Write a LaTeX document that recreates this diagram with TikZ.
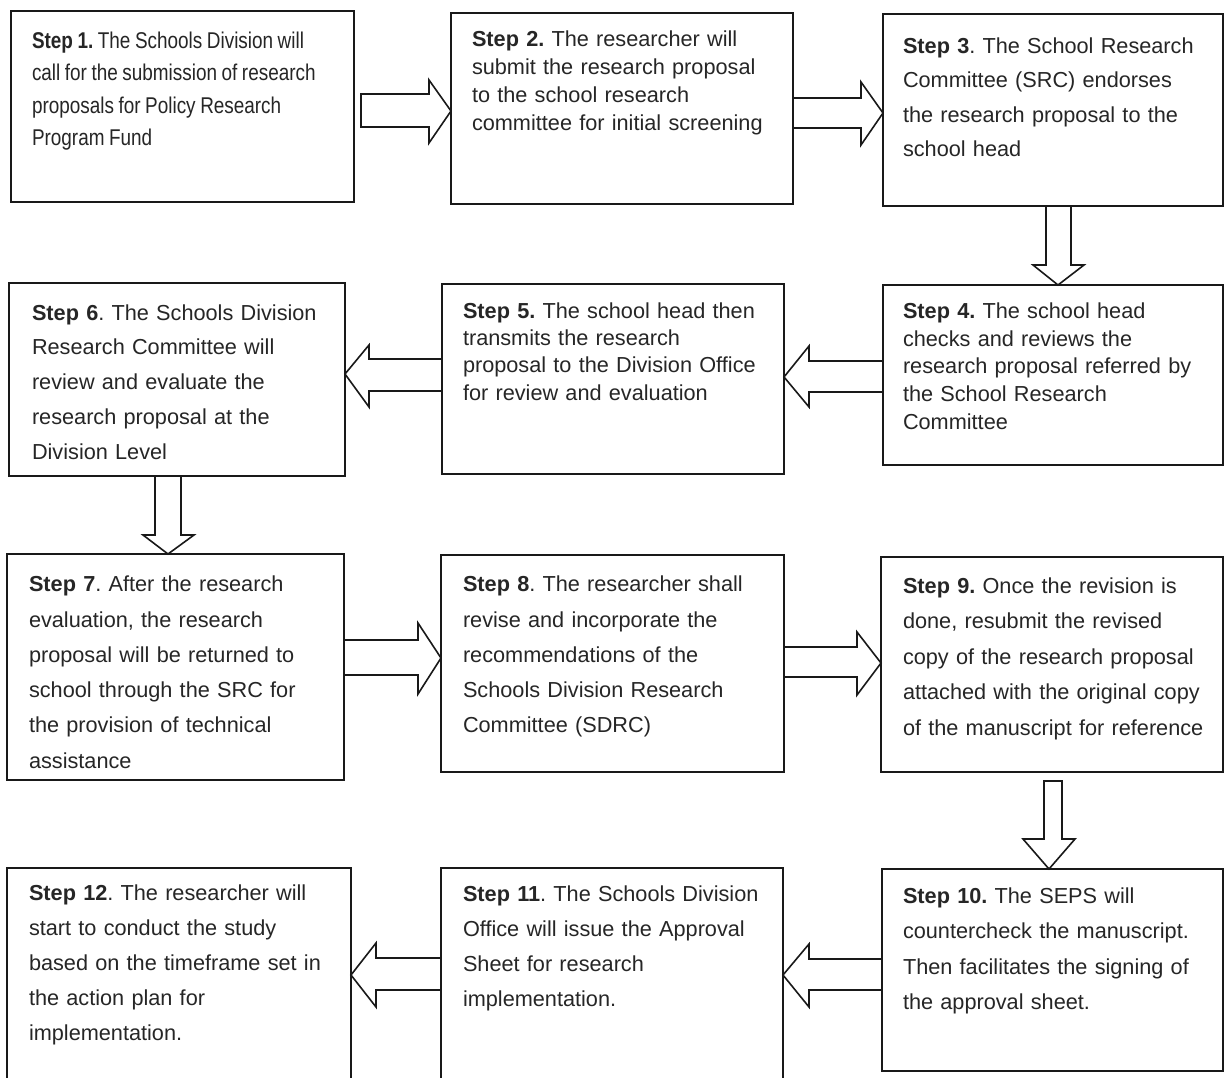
\documentclass[tikz,border=0pt]{standalone}
\usepackage{fontspec}
\setmainfont{Liberation Sans}
\newfontfamily\narrowfont[FakeStretch=0.83]{Liberation Sans}
\usetikzlibrary{calc}
\frenchspacing
\tikzset{
  stepbox/.style={draw=black!90, line width=1.7pt, inner sep=0pt, outer sep=0pt, anchor=north west},
  txt/.style={inner sep=0pt, outer sep=0pt, anchor=base west, text width=335pt, align=left, text=black!85},
  barrow/.style={draw=black!90, line width=1.6pt, line join=miter}
}
\newcommand{\fsz}[1]{\fontsize{21.7}{#1}\selectfont\frenchspacing}
\newcommand{\narrowsz}{\narrowfont\fontsize{22.8}{32.5}\selectfont\frenchspacing}
\newcommand{\tightsp}{\spaceskip=0.2em plus 0.05em minus 0.05em\relax\xspaceskip=\spaceskip}
\begin{document}
\begin{tikzpicture}[x=1pt,y=-1pt]
\clip (0,0) rectangle (1224,1077);
\fill[white] (0,0) rectangle (1224,1077);
% boxes
\node[stepbox, minimum width=343pt, minimum height=191pt] (s1) at (11,11) {};
\node[stepbox, minimum width=342pt, minimum height=191pt] (s2) at (451,13) {};
\node[stepbox, minimum width=340pt, minimum height=192pt] (s3) at (883,14) {};
\node[stepbox, minimum width=340pt, minimum height=180pt] (s4) at (883,285) {};
\node[stepbox, minimum width=342pt, minimum height=190pt] (s5) at (442,284) {};
\node[stepbox, minimum width=336pt, minimum height=193pt] (s6) at (9,283) {};
\node[stepbox, minimum width=337pt, minimum height=226pt] (s7) at (7,554) {};
\node[stepbox, minimum width=343pt, minimum height=217pt] (s8) at (441,555) {};
\node[stepbox, minimum width=342pt, minimum height=215pt] (s9) at (881,557) {};
\node[stepbox, minimum width=341pt, minimum height=202pt] (s10) at (882,869) {};
\node[stepbox, minimum width=342pt, minimum height=230pt] (s11) at (441,868) {};
\node[stepbox, minimum width=344pt, minimum height=230pt] (s12) at (7,868) {};
% texts
\node[txt, font=\narrowsz] (t1) at (32,48)
 {\tightsp\textbf{Step 1.} The Schools Division will\\call for the submission of research\\proposals for Policy Research\\Program Fund};
\node[txt, font=\fsz{27.8}] (t2) at (472,46.7)
 {\textbf{Step 2.} The researcher will\\submit the research proposal\\to the school research\\committee for initial screening};
\node[txt, font=\fsz{34.5}] (t3) at (903,53.3)
 {\textbf{Step 3}. The School Research\\Committee (SRC) endorses\\the research proposal to the\\school head};
\node[txt, font=\fsz{27.8}] (t4) at (903,318.3)
 {\textbf{Step 4.} The school head\\checks and reviews the\\research proposal referred by\\the School Research\\Committee};
\node[txt, font=\fsz{27.3}] (t5) at (463,318.3)
 {\textbf{Step 5.} The school head then\\transmits the research\\proposal to the Division Office\\for review and evaluation};
\node[txt, font=\fsz{34.8}] (t6) at (32,320)
 {\textbf{Step 6}. The Schools Division\\Research Committee will\\review and evaluate the\\research proposal at the\\Division Level};
\node[txt, font=\fsz{35.3}] (t7) at (29,591.7)
 {\textbf{Step 7}. After the research\\evaluation, the research\\proposal will be returned to\\school through the SRC for\\the provision of technical\\assistance};
\node[txt, font=\fsz{35.3}] (t8) at (463,591.7)
 {\textbf{Step 8}. The researcher shall\\revise and incorporate the\\recommendations of the\\Schools Division Research\\Committee (SDRC)};
\node[txt, font=\fsz{35.5}] (t9) at (903,593.3)
 {\textbf{Step 9.} Once the revision is\\done, resubmit the revised\\copy of the research proposal\\attached with the original copy\\of the manuscript for reference};
\node[txt, font=\fsz{35.5}] (t10) at (903,903.3)
 {\textbf{Step 10.} The SEPS will\\countercheck the manuscript.\\Then facilitates the signing of\\the approval sheet.};
\node[txt, font=\fsz{35}] (t11) at (463,901.7)
 {\textbf{Step 11}. The Schools Division\\Office will issue the Approval\\Sheet for research\\implementation.};
\node[txt, font=\fsz{35}] (t12) at (29,900)
 {\textbf{Step 12}. The researcher will\\start to conduct the study\\based on the timeframe set in\\the action plan for\\implementation.};
% helper coordinates
\path (s1.east) ++(7,0) coordinate (a12s);
\path (s9.south) ++(0,9) coordinate (a910s);
% block arrows
\draw[barrow] (a12s |- 0,94) -- (429,94) -- (429,80) -- (s2.west |- 0,111) -- (429,143) -- (429,127) -- (a12s |- 0,127) -- cycle;
\draw[barrow] (s2.east |- 0,98) -- (861,98) -- (861,82) -- (s3.west |- 0,113) -- (861,145) -- (861,128) -- (s2.east |- 0,128) -- cycle;
\draw[barrow] (s3.south -| 1046,0) -- (1046,265) -- (1033,265) -- (s4.north -| 1058,0) -- (1084,265) -- (1071,265) -- (s3.south -| 1071,0) -- cycle;
\draw[barrow] (s4.west |- 0,361) -- (809,361) -- (809,346) -- (s5.east |- 0,377) -- (809,407) -- (809,392) -- (s4.west |- 0,392) -- cycle;
\draw[barrow] (s5.west |- 0,359) -- (369,359) -- (369,345) -- (s6.east |- 0,374) -- (369,407) -- (369,391) -- (s5.west |- 0,391) -- cycle;
\draw[barrow] (s6.south -| 155,0) -- (155,535) -- (143,535) -- (s7.north -| 168,0) -- (194,535) -- (181,535) -- (s6.south -| 181,0) -- cycle;
\draw[barrow] (s7.east |- 0,640) -- (418,640) -- (418,623) -- (s8.west |- 0,658) -- (418,694) -- (418,675) -- (s7.east |- 0,675) -- cycle;
\draw[barrow] (s8.east |- 0,647) -- (857,647) -- (857,632) -- (s9.west |- 0,663) -- (857,695) -- (857,677) -- (s8.east |- 0,677) -- cycle;
\draw[barrow] (a910s -| 1044,0) -- (1044,839) -- (1023,839) -- (s10.north -| 1049,0) -- (1075,839) -- (1062,839) -- (a910s -| 1062,0) -- cycle;
\draw[barrow] (s10.west |- 0,959) -- (809,959) -- (809,944) -- (s11.east |- 0,975) -- (809,1007) -- (809,990) -- (s10.west |- 0,990) -- cycle;
\draw[barrow] (s11.west |- 0,958) -- (376,958) -- (376,943) -- (s12.east |- 0,975) -- (376,1007) -- (376,990) -- (s11.west |- 0,990) -- cycle;
\end{tikzpicture}
\end{document}
